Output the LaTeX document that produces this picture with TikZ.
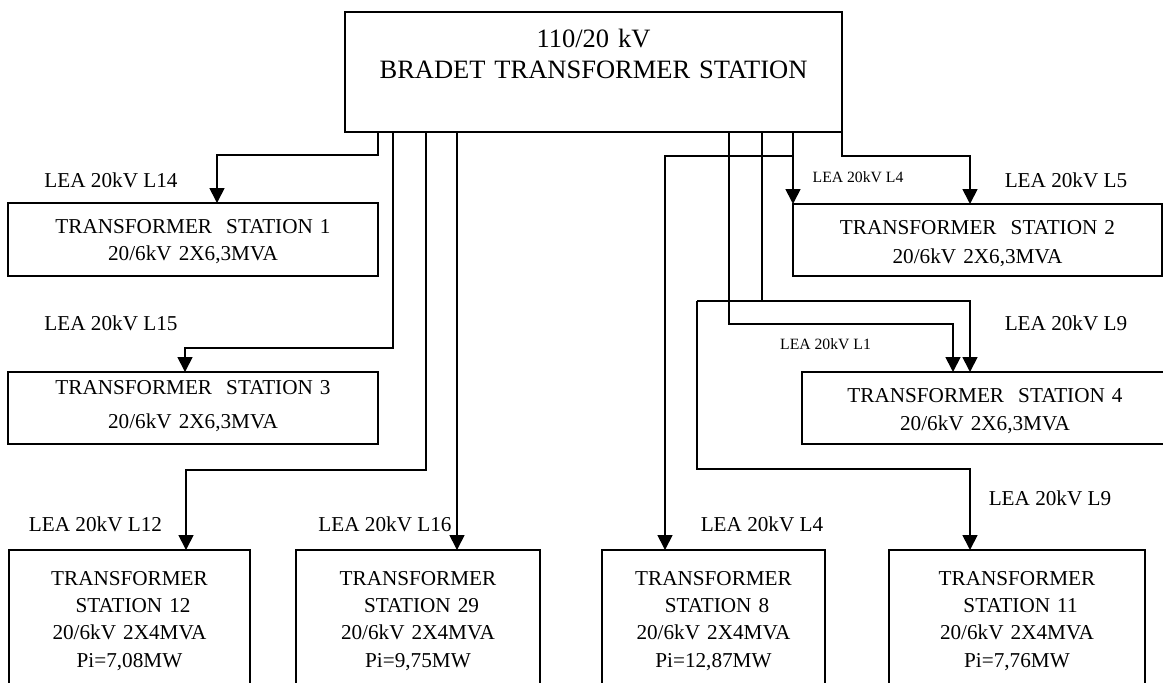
\documentclass[tikz,border=0pt]{standalone}
\usepackage{fontspec}
\setmainfont{Liberation Serif}
\usepackage{tikz}
\usetikzlibrary{arrows.meta}

\begin{document}
\begin{tikzpicture}[x=0.5pt, y=-0.5pt,
    every node/.style={font=\fontsize{10.6}{13.5}\selectfont},
    station/.style={draw, line width=0.8pt, inner sep=0pt, outer sep=0pt, anchor=north west, align=center},
    tsbottom/.style={station, text height=17.5pt, text depth=75pt, font=\fontsize{10.6}{13.7}\selectfont},
    feeder/.style={line width=0.85pt, -{Triangle[length=7.5pt,width=7.5pt]}},
    wire/.style={line width=0.7pt},
    lea/.style={anchor=base, inner sep=0pt},
    leasmall/.style={lea, font=\fontsize{7.85}{9}\selectfont}]
    \useasboundingbox (0,0) rectangle (1163,682);
    \clip (0,0) rectangle (1163,682);

    % main station
    \node[station, text width=248.5pt, text height=17.5pt, text depth=42.5pt,
          font=\fontsize{13.25}{15.5}\selectfont] (bradet) at (345,12) {110/20 kV\\BRADET TRANSFORMER STATION};

    % 20/6kV stations
    \node[station, text width=185pt, text height=15.25pt, text depth=21.25pt] (ts1) at (8,203) {TRANSFORMER~ STATION 1\\20/6kV 2X6,3MVA};
    \node[station, text width=185pt, text height=11pt, text depth=25pt] (ts3) at (8,372) {TRANSFORMER~ STATION 3\\[3.5pt]20/6kV 2X6,3MVA};
    \node[station, text width=184.5pt, text height=15pt, text depth=21pt] (ts2) at (793,204) {TRANSFORMER~ STATION 2\\[1pt]20/6kV 2X6,3MVA};
    \node[station, text width=183pt, text height=15pt, text depth=21pt] (ts4) at (802,372) {TRANSFORMER~ STATION 4\\[0.5pt]20/6kV 2X6,3MVA};

    \node[tsbottom, text width=120.5pt] (ts12) at (9,550) {TRANSFORMER\\~STATION 12\\20/6kV 2X4MVA\\Pi=7,08MW};
    \node[tsbottom, text width=122pt] (ts29) at (296,550) {TRANSFORMER\\~STATION 29\\20/6kV 2X4MVA\\Pi=9,75MW};
    \node[tsbottom, text width=111.5pt] (ts8) at (602,550) {TRANSFORMER\\~STATION 8\\20/6kV 2X4MVA\\Pi=12,87MW};
    \node[tsbottom, text width=128pt] (ts11) at (889,550) {TRANSFORMER\\~STATION 11\\20/6kV 2X4MVA\\Pi=7,76MW};

    % line labels
    \node[lea] (l14) at (111,187) {LEA 20kV L14};
    \node[lea] (l15) at (111,330) {LEA 20kV L15};
    \node[lea] (l12) at (95.5,531) {LEA 20kV L12};
    \node[lea] (l16) at (385,531) {LEA 20kV L16};
    \node[leasmall] (l4a) at (858,182) {LEA 20kV L4};
    \node[lea] (l5) at (1066,187) {LEA 20kV L5};
    \node[lea] (l9a) at (1066,330) {LEA 20kV L9};
    \node[leasmall] (l1) at (825.5,349) {LEA 20kV L1};
    \node[lea] (l4b) at (762,531) {LEA 20kV L4};
    \node[lea] (l9b) at (1050,505) {LEA 20kV L9};

    % feeders
    \draw[feeder] (bradet.south -| 378,0) -- ++(0,23) -| (ts1.north -| 217,0);
    \draw[feeder] (bradet.south -| 393,0) -- ++(0,216) -| (ts3.north -| 185,0);
    \draw[feeder] (bradet.south -| 426,0) -- ++(0,338) -| (ts12.north -| 186,0);
    \draw[feeder] (bradet.south -| 457,0) -- (ts29.north -| 457,0);
    \draw[feeder] (bradet.south -| 793,0) -- (ts2.north west);
    \draw[feeder] (bradet.south -| 793,0) ++(0,24) -| (ts8.north -| 665,0);
    \draw[feeder] (bradet.south east) -- ++(0,24) -| (ts2.north -| 970,0);
    \draw[feeder] (bradet.south -| 729,0) -- ++(0,192) -| (ts4.north -| 953,0);
    \coordinate (bus9) at (697,301);
    \draw[wire] (bradet.south -| 762,0) -- (bus9 -| 762,0);
    \draw[feeder] (bus9) -| (ts4.north -| 970,0);
    \draw[feeder] (bus9) -- ++(0,168) -| (ts11.north -| 970,0);
\end{tikzpicture}
\end{document}
